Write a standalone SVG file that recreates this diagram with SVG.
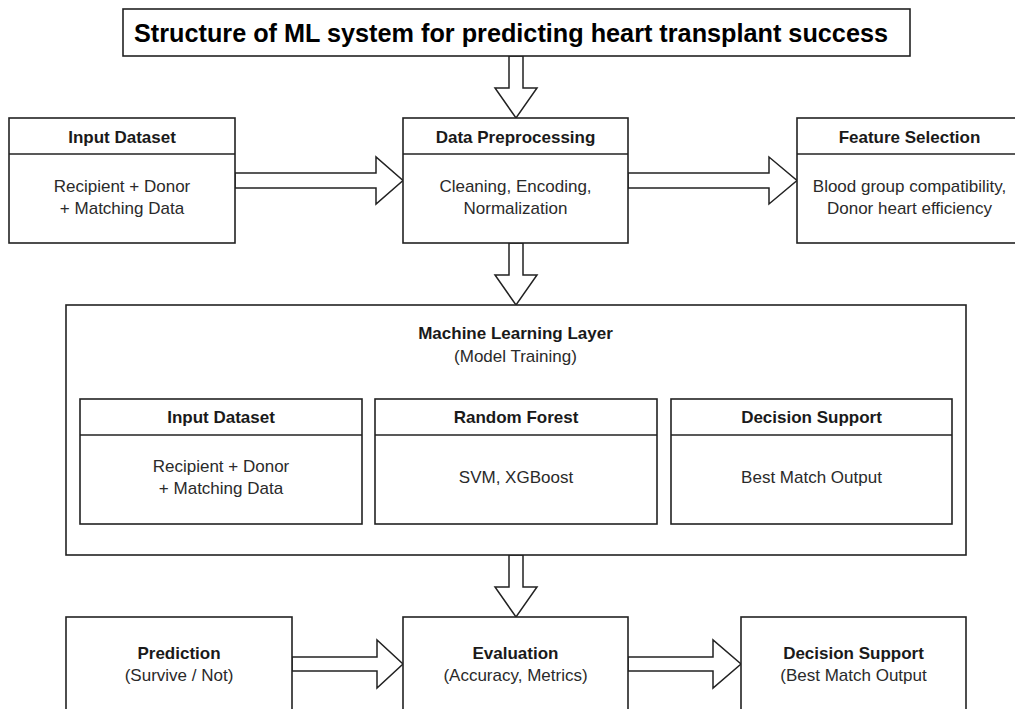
<svg xmlns="http://www.w3.org/2000/svg" width="1015" height="709" viewBox="0 0 1015 709">
<style>
.box{fill:#fff;stroke:#222;stroke-width:1.6}
.ln{stroke:#222;stroke-width:1.6}
.arr{fill:#fff;stroke:#222;stroke-width:1.5;stroke-linejoin:miter}
text{font-family:"Liberation Sans",Arial,sans-serif;fill:#1a1a1a;text-anchor:middle}
.h{font-size:17px;font-weight:bold}
.t{font-size:17px;fill:#2a2a2a}
.title{font-size:26px;font-weight:bold;fill:#000}
</style>
<rect width="1015" height="709" fill="#fff"/>
<g id="connectors">
<polygon class="arr" points="509,56 523,56 523,88 537,88 516,118 495,88 509,88"/>
<polygon class="arr" points="235,173 376,173 376,157 403,180.5 376,204 376,188 235,188"/>
<polygon class="arr" points="628,173 769,173 769,157 797,180.5 769,204 769,188 628,188"/>
<polygon class="arr" points="509,243 523,243 523,275 537,275 516,305 495,275 509,275"/>
<polygon class="arr" points="509,555 523,555 523,587 537,587 516,617 495,587 509,587"/>
<polygon class="arr" points="292,657 377,657 377,640 403,664 377,688 377,671 292,671"/>
<polygon class="arr" points="628,657 713,657 713,640 741,664 713,688 713,671 628,671"/>
</g>
<g id="title">
<rect class="box" x="123" y="9" width="787" height="47"/>
<text class="title" x="511" y="42" textLength="754" lengthAdjust="spacingAndGlyphs">Structure of ML system for predicting heart transplant success</text>
</g>
<g id="input-dataset">
<rect class="box" x="9" y="118" width="226" height="125"/>
<line class="ln" x1="9" y1="154" x2="235" y2="154"/>
<text class="h" x="122" y="143">Input Dataset</text>
<text class="t" x="122" y="192">Recipient + Donor</text>
<text class="t" x="122" y="214">+ Matching Data</text>
</g>
<g id="data-preprocessing">
<rect class="box" x="403" y="118" width="225" height="125"/>
<line class="ln" x1="403" y1="154" x2="628" y2="154"/>
<text class="h" x="515.5" y="143">Data Preprocessing</text>
<text class="t" x="515.5" y="192">Cleaning, Encoding,</text>
<text class="t" x="515.5" y="214">Normalization</text>
</g>
<g id="feature-selection">
<rect class="box" x="797" y="118" width="225" height="125"/>
<line class="ln" x1="797" y1="154" x2="1022" y2="154"/>
<text class="h" x="909.5" y="143">Feature Selection</text>
<text class="t" x="909.5" y="192">Blood group compatibility,</text>
<text class="t" x="909.5" y="214">Donor heart efficiency</text>
</g>
<g id="ml-layer">
<rect class="box" x="66" y="305" width="900" height="250"/>
<text class="h" x="515.5" y="339">Machine Learning Layer</text>
<text class="t" x="515.5" y="362">(Model Training)</text>
</g>
<g id="ml-input-dataset">
<rect class="box" x="80" y="399" width="282" height="125"/>
<line class="ln" x1="80" y1="435" x2="362" y2="435"/>
<text class="h" x="221" y="423">Input Dataset</text>
<text class="t" x="221" y="472">Recipient + Donor</text>
<text class="t" x="221" y="494">+ Matching Data</text>
</g>
<g id="ml-random-forest">
<rect class="box" x="375" y="399" width="282" height="125"/>
<line class="ln" x1="375" y1="435" x2="657" y2="435"/>
<text class="h" x="516" y="423">Random Forest</text>
<text class="t" x="516" y="483">SVM, XGBoost</text>
</g>
<g id="ml-decision-support">
<rect class="box" x="671" y="399" width="281" height="125"/>
<line class="ln" x1="671" y1="435" x2="952" y2="435"/>
<text class="h" x="811.5" y="423">Decision Support</text>
<text class="t" x="811.5" y="483">Best Match Output</text>
</g>
<g id="prediction">
<rect class="box" x="66" y="617" width="226" height="110"/>
<text class="h" x="179" y="659">Prediction</text>
<text class="t" x="179" y="681">(Survive / Not)</text>
</g>
<g id="evaluation">
<rect class="box" x="403" y="617" width="225" height="110"/>
<text class="h" x="515.5" y="659">Evaluation</text>
<text class="t" x="515.5" y="681">(Accuracy, Metrics)</text>
</g>
<g id="decision-support">
<rect class="box" x="741" y="617" width="225" height="110"/>
<text class="h" x="853.5" y="659">Decision Support</text>
<text class="t" x="853.5" y="681">(Best Match Output</text>
</g>
</svg>
